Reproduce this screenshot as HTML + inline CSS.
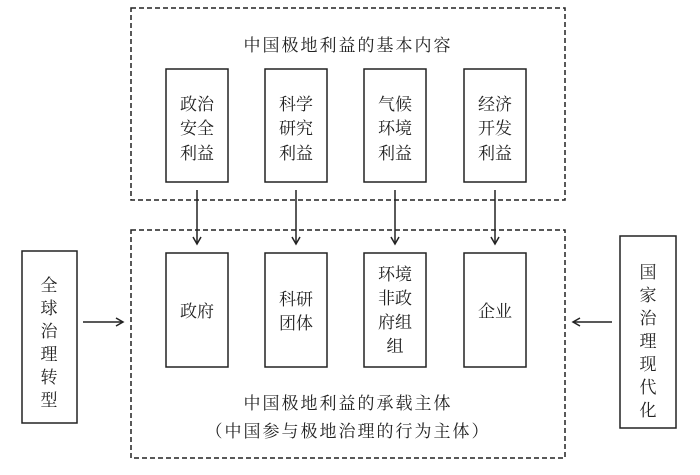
<!DOCTYPE html>
<html><head><meta charset="utf-8"><style>
body{margin:0;background:#fff}
svg text{font-family:"Liberation Serif","Noto Serif CJK SC","Noto Sans CJK SC",serif;fill:#222;font-size:17px;text-anchor:middle}
</style></head><body>
<svg width="700" height="470" xmlns="http://www.w3.org/2000/svg">
<defs><marker id="a" markerWidth="10" markerHeight="10" refX="8" refY="5" orient="auto" markerUnits="userSpaceOnUse"><path d="M1,1 L8,5 L1,9" fill="none" stroke="#222" stroke-width="1.5"/></marker></defs>
<g fill="none" stroke="#222" stroke-width="1.5">
<rect x="131" y="8" width="434" height="192" stroke-dasharray="5,3"/>
<rect x="131" y="230" width="434" height="228" stroke-dasharray="5,3"/>
<rect x="166" y="69" width="62" height="113"/>
<rect x="265" y="69" width="62" height="113"/>
<rect x="364" y="69" width="62" height="113"/>
<rect x="464" y="69" width="62" height="113"/>
<rect x="166" y="253" width="62" height="114"/>
<rect x="265" y="253" width="62" height="114"/>
<rect x="364" y="253" width="62" height="114"/>
<rect x="464" y="253" width="62" height="114"/>
<rect x="22" y="251" width="55" height="172"/>
<rect x="620" y="236" width="56" height="192"/>
<line x1="197" y1="190" x2="197" y2="244" marker-end="url(#a)"/>
<line x1="296" y1="190" x2="296" y2="244" marker-end="url(#a)"/>
<line x1="395" y1="190" x2="395" y2="244" marker-end="url(#a)"/>
<line x1="495" y1="190" x2="495" y2="244" marker-end="url(#a)"/>
<line x1="83" y1="322" x2="123" y2="322" marker-end="url(#a)"/>
<line x1="612" y1="322" x2="573" y2="322" marker-end="url(#a)"/>
</g>
<text x="348" y="51" style="letter-spacing:2px">中国极地利益的基本内容</text>
<text x="197" y="110">政治</text><text x="197" y="134">安全</text><text x="197" y="159">利益</text>
<text x="296" y="110">科学</text><text x="296" y="134">研究</text><text x="296" y="159">利益</text>
<text x="395" y="110">气候</text><text x="395" y="134">环境</text><text x="395" y="159">利益</text>
<text x="495" y="110">经济</text><text x="495" y="134">开发</text><text x="495" y="159">利益</text>
<text x="197" y="317">政府</text>
<text x="296" y="305">科研</text><text x="296" y="329">团体</text>
<text x="395" y="280">环境</text><text x="395" y="304">非政</text><text x="395" y="328">府组</text><text x="395" y="352">组</text>
<text x="495" y="317">企业</text>
<text x="348" y="409" style="letter-spacing:2px">中国极地利益的承载主体</text>
<text x="348" y="437" style="letter-spacing:2px">（中国参与极地治理的行为主体）</text>
<text x="49" y="291">全</text><text x="49" y="314">球</text><text x="49" y="337">治</text><text x="49" y="360">理</text><text x="49" y="383">转</text><text x="49" y="406">型</text>
<text x="648" y="278">国</text><text x="648" y="301">家</text><text x="648" y="324">治</text><text x="648" y="347">理</text><text x="648" y="370">现</text><text x="648" y="393">代</text><text x="648" y="416">化</text>
</svg>
</body></html>
